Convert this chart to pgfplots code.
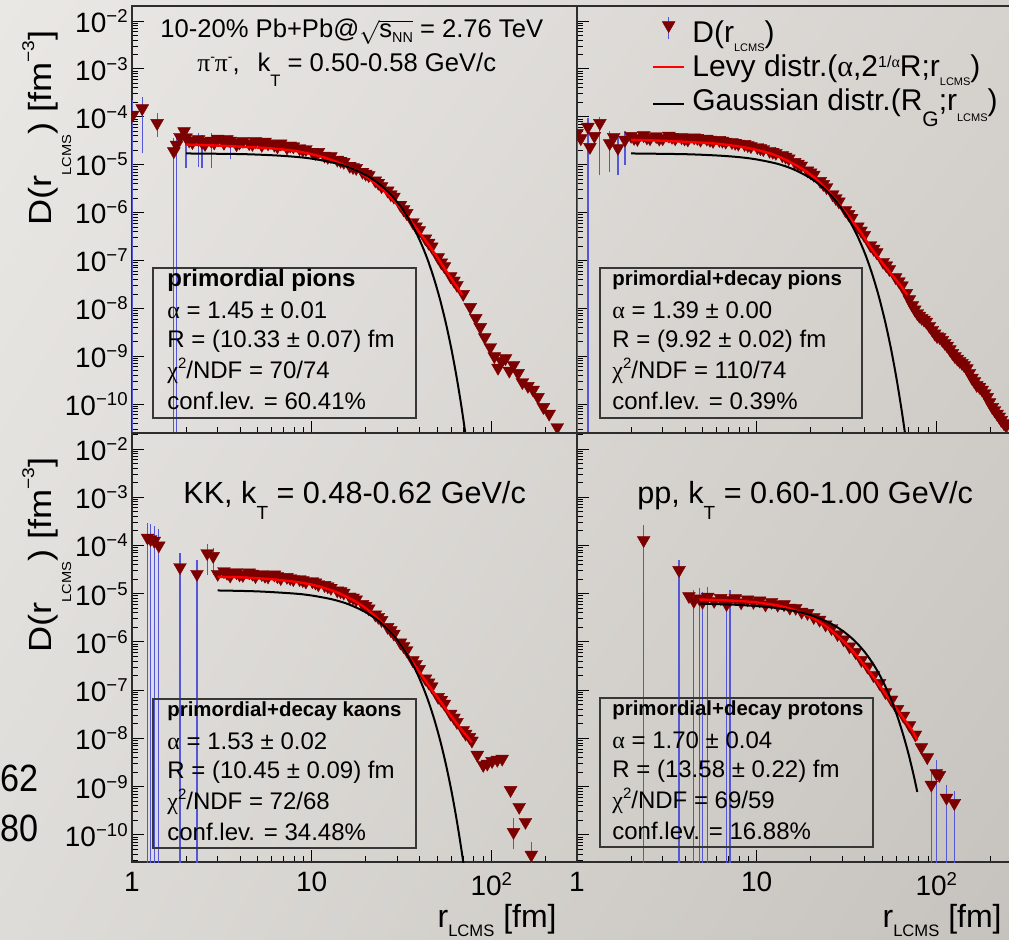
\documentclass[border=0pt]{standalone}
\usepackage{fontspec}
\setmainfont{Liberation Sans}
\newfontfamily\gr{Liberation Serif}
\usepackage{pgfplots}
\pgfplotsset{compat=1.18}
\usepackage{pgfplotstable}
\usetikzlibrary{shadings}

\definecolor{mkcol}{RGB}{125,0,0}
\definecolor{errcol}{RGB}{85,85,215}
\definecolor{framecol}{RGB}{45,45,45}
\definecolor{boxcol}{RGB}{55,55,55}
\definecolor{bgul}{RGB}{234,232,229}
\definecolor{bgur}{RGB}{214,211,207}
\definecolor{bgll}{RGB}{222,220,216}
\definecolor{bglr}{RGB}{198,195,190}

\newcommand\fs[1]{\fontsize{#1}{#1}\selectfont}
\newcommand\tp[1]{10\raisebox{5pt}{\fs{9.3}−#1}}
\newcommand\tpx[1]{10\raisebox{5pt}{\fs{9.3}#1}}
\newcommand\bl[3]{\node[anchor=base west,inner sep=0pt] at (#1,#2) {\fs{12}#3};}
\newcommand\bt[3]{\node[anchor=base west,inner sep=0pt] at (#1,#2) {\fs{10.2}\bfseries #3};}

% ---------------- panel A: primordial pions ----------------
\pgfplotstableread{
r D
1.01 1.1e-4
1.14 1.5e-4
1.38 7.4e-5
1.71 1.9e-5
1.77 2.6e-5
1.85 3.8e-5
1.95 5.0e-5
2.0 3.72e-5
2.17 2.95e-5
2.35 3.39e-5
2.55 2.69e-5
2.76 3.16e-5
3.0 3.47e-5
3.25 2.85e-5
3.52 3.16e-5
3.82 2.65e-5
4.14 3.13e-5
4.49 2.81e-5
4.87 3.09e-5
5.28 2.58e-5
5.72 2.78e-5
6.2 2.60e-5
6.73 2.77e-5
7.29 2.28e-5
7.91 2.41e-5
8.57 2.19e-5
9.29 2.11e-5
10.1 1.85e-5
10.9 1.84e-5
11.8 1.54e-5
12.8 1.50e-5
13.9 1.27e-5
15.1 1.14e-5
16.3 9.44e-6
17.7 8.51e-6
19.2 7.08e-6
20.8 6.03e-6
22.6 4.68e-6
24.5 3.55e-6
26.5 2.88e-6
28.7 2.14e-6
31.2 1.45e-6
33.8 9.77e-7
36.6 6.31e-7
39.7 4.27e-7
43.0 2.88e-7
46.6 1.95e-7
50.6 1.17e-7
54.8 7.59e-8
59.4 4.68e-8
64.4 3.09e-8
69.8 2.00e-8
2.08 3.2e-5
2.45 3.0e-5
2.87 2.9e-5
3.38 3.4e-5
3.97 2.9e-5
4.68 2.7e-5
5.5 3.0e-5
6.45 2.4e-5
7.6 2.5e-5
8.93 2.05e-5
10.5 1.75e-5
12.3 1.45e-5
14.5 1.2e-5
17.0 8.9e-6
20.0 6.46e-6
23.5 4.17e-6
27.6 2.40e-6
32.5 1.17e-6
38.1 5.13e-7
44.8 2.34e-7
52.7 9.12e-8
62 3.80e-8
76.4 1.07e-8
82 6.31e-9
86.8 4.07e-9
92 2.51e-9
98.7 1.55e-9
104 1.0e-9
109 5.75e-10
114 7.94e-10
120 9.12e-10
126 5.01e-10
133 6.61e-10
141 4.47e-10
149 2.88e-10
160 2.4e-10
171 2.00e-10
182 1.41e-10
195 8.71e-11
210 6.31e-11
233 3.31e-11
}\dataA
\pgfplotstableread{
x y
1.01 1e-12
1.01 2.24e-4
nan nan
1.14 1.74e-5
1.14 2.57e-4
nan nan
1.38 3.8e-5
1.38 1.2e-4
nan nan
1.71 1e-12
1.71 3.6e-5
nan nan
1.77 1e-12
1.77 4.2e-5
nan nan
2.0 8.5e-6
2.0 5.0e-5
nan nan
2.35 9.0e-6
2.35 4.6e-5
nan nan
2.45 8.5e-6
2.45 4.2e-5
nan nan
2.76 8.5e-6
2.76 4.5e-5
nan nan
3.52 1.3e-5
3.52 4.2e-5
}\errA
\pgfplotstableread{
r D
2 2.63e-5
3 2.51e-5
4.4 2.34e-5
6 2.19e-5
8 1.95e-5
10 1.66e-5
12 1.38e-5
14 1.12e-5
16 8.91e-6
18 7.41e-6
20 5.75e-6
22 4.37e-6
24.5 3.16e-6
27 2.24e-6
30 1.48e-6
34 8.51e-7
38 4.90e-7
43 2.63e-7
49 1.32e-7
55 6.76e-8
62 3.47e-8
69 1.91e-8
}\redA
\pgfplotstableread{
r D
2 1.72e-5
4 1.67e-5
6 1.58e-5
8 1.47e-5
10 1.34e-5
13 1.12e-5
16 8.89e-6
20 6.10e-6
24 3.85e-6
28 2.23e-6
32 1.19e-6
36 5.85e-7
40 2.64e-7
44 1.10e-7
48 4.19e-8
52 1.47e-8
56 4.74e-9
60 1.41e-9
64 3.85e-10
68 9.66e-11
72 2.23e-11
74 1.04e-11
}\blkA

% ---------------- panel B: primordial+decay pions ----------------
\pgfplotstableread{
r D
1.0 4.57e-5
1.05 3.55e-5
1.15 6.17e-5
1.18 2.34e-5
1.25 3.98e-5
1.34 7.41e-5
1.52 2.82e-5
1.6 3.8e-5
1.69 2.24e-5
1.85 3.31e-5
2.0 3.98e-5
2.17 3.44e-5
2.35 4.10e-5
2.55 3.55e-5
2.76 3.94e-5
3.0 3.55e-5
3.25 4.03e-5
3.52 3.55e-5
3.82 3.74e-5
4.14 3.36e-5
4.49 3.71e-5
4.87 3.31e-5
5.28 3.48e-5
5.72 3.13e-5
6.2 3.27e-5
6.73 3.02e-5
7.29 2.96e-5
7.91 2.73e-5
8.57 2.69e-5
9.29 2.43e-5
10.1 2.32e-5
10.9 2.11e-5
11.8 1.94e-5
12.8 1.76e-5
13.9 1.57e-5
15.1 1.35e-5
16.3 1.14e-5
17.7 9.55e-6
19.2 7.59e-6
20.8 6.17e-6
22.6 4.57e-6
24.5 3.39e-6
26.5 2.40e-6
28.7 1.70e-6
31.2 1.12e-6
33.8 7.76e-7
36.6 5.13e-7
39.7 3.39e-7
43.0 2.09e-7
46.6 1.48e-7
50.6 9.33e-8
54.8 6.61e-8
59.4 4.47e-8
64.4 3.02e-8
2.08 3.6e-5
2.45 3.7e-5
2.87 3.5e-5
3.38 3.8e-5
3.97 3.5e-5
4.68 3.6e-5
5.5 3.3e-5
6.45 3.15e-5
7.6 2.85e-5
8.93 2.55e-5
10.5 2.2e-5
12.3 1.85e-5
14.5 1.46e-5
17.0 1.05e-5
20.0 6.9e-6
23.5 3.95e-6
27.6 2.0e-6
32.5 9.3e-7
38.1 4.2e-7
44.8 1.75e-7
52.7 7.9e-8
62 3.7e-8
68.1 2.09e-8
73.6 1.17e-8
78.4 7.94e-9
83 6.31e-9
88 5.25e-9
95 3.55e-9
101 2.63e-9
108 2.19e-9
115 1.66e-9
123 1.17e-9
131 8.91e-10
139 7.24e-10
148 5.62e-10
158 3.55e-10
168 2.51e-10
180 2.00e-10
192 1.41e-10
205 8.71e-11
218 6.31e-11
230 4.68e-11
245 3.55e-11
70.8 1.55e-8
75.9 9.5e-9
80.5 7.0e-9
85.5 5.8e-9
91.5 4.3e-9
98 3.0e-9
104.5 2.5e-9
111.5 1.9e-9
119 1.4e-9
127 1.0e-9
135 8.0e-10
143 6.5e-10
153 4.5e-10
163 3.0e-10
174 2.3e-10
186 1.7e-10
198 1.1e-10
211 7.5e-11
224 5.5e-11
238 4.0e-11
}\dataB
\pgfplotstableread{
x y
1.0 1e-12
1.0 8.5e-5
nan nan
1.15 1e-12
1.15 9.5e-5
nan nan
1.34 6e-6
1.34 1.0e-4
nan nan
1.52 7e-6
1.52 5e-5
nan nan
1.69 6e-6
1.69 4e-5
nan nan
1.85 1e-5
1.85 5e-5
}\errB
\pgfplotstableread{
r D
2 3.31e-5
3 3.16e-5
4.4 2.95e-5
6 2.75e-5
8 2.40e-5
10 2.04e-5
12 1.70e-5
14 1.35e-5
16 1.05e-5
18 8.13e-6
20 6.17e-6
22 4.57e-6
24.5 3.02e-6
27 2.00e-6
30 1.23e-6
34 6.76e-7
38 3.89e-7
43.5 1.78e-7
49 1.00e-7
55 5.75e-8
62 3.31e-8
69 1.91e-8
}\redB
\pgfplotstableread{
r D
2 1.72e-5
4 1.66e-5
6 1.56e-5
8 1.44e-5
10 1.29e-5
13 1.05e-5
16 8.05e-6
20 5.22e-6
24 3.08e-6
28 1.65e-6
32 8.04e-7
36 3.55e-7
40 1.43e-7
44 5.20e-8
48 1.72e-8
52 5.19e-9
56 1.42e-9
60 3.52e-10
64 7.94e-11
67 2.44e-11
69 1.08e-11
}\blkB

% ---------------- panel C: kaons ----------------
\pgfplotstableread{
r D
1.22 1.45e-4
1.27 1.35e-4
1.33 1.25e-4
1.41 1.0e-4
1.85 3.55e-5
2.3 2.57e-5
2.62 6.92e-5
2.83 6.03e-5
3.0 2.57e-5
3.25 2.93e-5
3.52 2.37e-5
3.82 2.77e-5
4.14 2.44e-5
4.49 2.75e-5
4.87 2.31e-5
5.28 2.54e-5
5.72 2.27e-5
6.2 2.49e-5
6.73 2.10e-5
7.29 2.22e-5
7.91 2.00e-5
8.57 2.00e-5
9.29 1.78e-5
10.1 1.80e-5
10.9 1.56e-5
11.8 1.51e-5
12.8 1.32e-5
13.9 1.16e-5
15.1 1.05e-5
16.3 8.71e-6
17.7 7.59e-6
19.2 6.10e-6
20.8 4.95e-6
22.6 3.72e-6
24.5 2.85e-6
26.5 2.04e-6
28.7 1.48e-6
31.2 9.77e-7
33.8 6.76e-7
36.6 4.17e-7
39.7 2.75e-7
43.0 1.74e-7
46.6 1.20e-7
50.6 7.24e-8
54.8 5.25e-8
59.4 3.24e-8
64.4 2.19e-8
69.8 1.48e-8
75.6 1.07e-8
3.38 2.7e-5
3.97 2.5e-5
4.68 2.6e-5
5.5 2.35e-5
6.45 2.3e-5
7.6 2.1e-5
8.93 1.9e-5
10.5 1.7e-5
12.3 1.42e-5
14.5 1.12e-5
17.0 8.3e-6
20.0 5.6e-6
23.5 3.3e-6
27.6 1.75e-6
32.5 8.2e-7
38.1 3.5e-7
44.8 1.45e-7
52.7 6.3e-8
62 2.7e-8
72 1.25e-8
78 9.0e-9
83.6 4.57e-9
90.2 2.82e-9
95 3.0e-9
101 3.39e-9
108 3.6e-9
115 3.80e-9
128 8.51e-10
143 3.80e-10
155 1.86e-10
133 1.15e-10
167 3.89e-11
}\dataC
\pgfplotstableread{
x y
1.22 1e-12
1.22 3.0e-4
nan nan
1.27 1e-12
1.27 2.8e-4
nan nan
1.33 1e-12
1.33 2.5e-4
nan nan
1.41 1e-12
1.41 2.2e-4
nan nan
1.85 1e-12
1.85 7.0e-5
nan nan
2.3 1e-12
2.3 5.0e-5
nan nan
2.62 2.5e-5
2.62 1.1e-4
nan nan
2.83 2.4e-5
2.83 9.0e-5
nan nan
133 5e-11
133 2.2e-10
nan nan
167 1e-12
167 7e-11
}\errC
\pgfplotstableread{
r D
3 2.24e-5
4 2.19e-5
5 2.09e-5
6 2.00e-5
8 1.78e-5
10 1.55e-5
12 1.29e-5
14 1.05e-5
17 7.41e-6
20 5.01e-6
24 2.75e-6
28 1.48e-6
32 7.94e-7
37 3.55e-7
43 1.58e-7
50 7.24e-8
58 3.39e-8
67 1.66e-8
78 8.32e-9
}\redC
\pgfplotstableread{
r D
3 1.17e-5
5 1.12e-5
8 1.01e-5
10 9.20e-6
13 7.66e-6
16 6.08e-6
20 4.14e-6
24 2.59e-6
28 1.49e-6
32 7.85e-7
36 3.80e-7
40 1.69e-7
44 6.90e-8
48 2.59e-8
52 8.91e-9
56 2.82e-9
60 8.18e-10
64 2.18e-10
68 5.35e-11
71 1.76e-11
}\blkC

% ---------------- panel D: protons ----------------
\pgfplotstableread{
r D
2.35 1.29e-4
3.7 3.09e-5
4.2 8.91e-6
4.47 7.08e-6
4.8 7.94e-6
5.0 6.76e-6
5.34 8.61e-6
5.8 7.08e-6
6.3 8.13e-6
6.8 6.10e-6
7.1 7.41e-6
7.6 8.04e-6
8.2 6.61e-6
8.9 7.59e-6
9.6 6.76e-6
10.4 7.24e-6
11.2 5.96e-6
12.1 6.76e-6
13.1 5.89e-6
14.2 6.03e-6
15.3 5.13e-6
16.5 5.07e-6
17.8 4.22e-6
19.2 3.98e-6
20.8 3.27e-6
22.4 2.88e-6
24.2 2.29e-6
26.1 1.93e-6
28.2 1.45e-6
30.5 1.12e-6
32.9 8.04e-7
35.5 6.17e-7
38.3 4.22e-7
41.4 3.09e-7
44.7 2.04e-7
48.3 1.41e-7
52.1 9.12e-8
56.3 6.38e-8
60.8 4.07e-8
65.6 2.95e-8
70.9 1.88e-8
76.5 1.20e-8
82.6 6.61e-9
89.1 4.07e-9
100 1.91e-9
93.8 1.10e-9
104 1.74e-9
114 5.89e-10
126 4.57e-10
}\dataD
\pgfplotstableread{
x y
2.35 1e-12
2.35 2.6e-4
nan nan
3.7 1e-12
3.7 5e-5
nan nan
4.47 1e-12
4.47 1.2e-5
nan nan
4.8 1e-12
4.8 1.3e-5
nan nan
5.0 1e-12
5.0 1.1e-5
nan nan
5.34 1e-12
5.34 1.4e-5
nan nan
6.8 1e-12
6.8 1.0e-5
nan nan
7.1 1e-12
7.1 1.2e-5
nan nan
93.8 1e-12
93.8 2.0e-9
nan nan
100 1e-12
100 3.5e-9
nan nan
114 1e-12
114 1.1e-9
nan nan
126 1e-12
126 8.0e-10
}\errD
\pgfplotstableread{
r D
4.8 7.59e-6
6 7.41e-6
8 7.08e-6
10 6.61e-6
13 5.75e-6
16 4.68e-6
20 3.31e-6
24 2.19e-6
28 1.38e-6
33 7.59e-7
38 4.07e-7
44 2.04e-7
50 1.05e-7
57 5.37e-8
65 2.75e-8
73 1.51e-8
78.4 9.12e-9
}\redD
\pgfplotstableread{
r D
4.8 6.24e-6
8 5.87e-6
12 5.22e-6
16 4.44e-6
20 3.59e-6
25 2.58e-6
30 1.72e-6
35 1.07e-6
40 6.17e-7
45 3.30e-7
50 1.64e-7
55 7.60e-8
60 3.27e-8
65 1.30e-8
70 4.84e-9
75 1.67e-9
78.4 7.76e-10
}\blkD

\newcommand\panelbegin[1]{\begin{loglogaxis}[
    scale only axis, width=222.5pt, xmin=1, xmax=300,
    axis line style={draw=framecol, line width=0.9pt},
    xtick={1,10,100}, minor xtick={2,3,4,5,6,7,8,9,20,30,40,50,60,70,80,90,200,300},
    ytick={1e-10,1e-9,1e-8,1e-7,1e-6,1e-5,1e-4,1e-3,1e-2},
    minor ytick={2e-11,3e-11,4e-11,5e-11,6e-11,7e-11,8e-11,9e-11,
      2e-10,3e-10,4e-10,5e-10,6e-10,7e-10,8e-10,9e-10,
      2e-9,3e-9,4e-9,5e-9,6e-9,7e-9,8e-9,9e-9,
      2e-8,3e-8,4e-8,5e-8,6e-8,7e-8,8e-8,9e-8,
      2e-7,3e-7,4e-7,5e-7,6e-7,7e-7,8e-7,9e-7,
      2e-6,3e-6,4e-6,5e-6,6e-6,7e-6,8e-6,9e-6,
      2e-5,3e-5,4e-5,5e-5,6e-5,7e-5,8e-5,9e-5,
      2e-4,3e-4,4e-4,5e-4,6e-4,7e-4,8e-4,9e-4,
      2e-3,3e-3,4e-3,5e-3,6e-3,7e-3,8e-3,9e-3,2e-2},
    xtick pos=left, ytick pos=left, tick align=inside,
    major tick length=6pt, minor tick length=3pt,
    tick style={black, line width=0.5pt},
    xticklabels={}, yticklabels={},
    tick label style={font=\fs{14}},
    yticklabel style={inner sep=2pt},
    xticklabel style={inner sep=5pt},
    clip marker paths=true,
    unbounded coords=jump, anchor=north west, #1]}

\begin{document}
\begin{tikzpicture}
\path[use as bounding box] (0,0) rectangle (504.5pt,-470pt);
\shade[upper left=bgul, upper right=bgur, lower left=bgll, lower right=bglr] (0,0) rectangle (504.5pt,-470pt);

% A
\panelbegin{at={(66pt,-3pt)}, height=213.5pt, ymin=2.51e-11, ymax=2.06e-2,
  yticklabels={\tp{10},\tp{9},\tp{8},\tp{7},\tp{6},\tp{5},\tp{4},\tp{3},\tp{2}}}
\addplot[errcol, line width=0.6pt, forget plot] table {\errA};
\addplot[only marks, mark=triangle*, mark size=3.7pt, mark options={rotate=180, fill=mkcol, draw=mkcol, line width=0.2pt, solid}, forget plot] table {\dataA};
\addplot[red, line width=1.2pt, smooth, forget plot] table {\redA};
\addplot[black, line width=1pt, smooth, forget plot] table {\blkA};
\end{loglogaxis}

% B
\panelbegin{at={(288.5pt,-3pt)}, height=213.5pt, ymin=2.51e-11, ymax=2.06e-2,
  legend style={at={(0.1685,0.975)}, anchor=north west, draw=none, fill=none,
    inner sep=0pt, outer sep=0pt, row sep=1pt, column sep=3.5pt,
    font=\fs{15}, nodes={inner sep=0pt, text height=9.5pt, text depth=6.5pt}},
  legend cell align=left}
\addplot[errcol, line width=0.6pt, forget plot] table {\errB};
\addplot[only marks, mark=triangle*, mark size=3.7pt,
    mark options={rotate=180, fill=mkcol, draw=mkcol, line width=0.2pt, solid},
    legend image code/.code={
      \draw[errcol, line width=0.6pt] (7.75pt,0pt) -- (7.75pt,11pt);
      \draw[mkcol, fill=mkcol, line width=0.2pt] plot[only marks, mark=triangle*, mark size=3.7pt, mark options={rotate=180}] coordinates {(7.75pt,7pt)};
    }] table {\dataB};
\addlegendentry{D(r\raisebox{-4.5pt}{\fs{5.5}LCMS})}
\addplot[red, line width=1.2pt, smooth, legend image code/.code={\draw[red, line width=1.2pt] (0pt,3pt) -- (15.5pt,3pt);}] table {\redB};
\addlegendentry{Levy distr.({\gr α},2\raisebox{4.5pt}{\fs{8}1/{\gr α}}R;r\raisebox{-4.8pt}{\fs{5.5}LCMS})}
\addplot[black, line width=1pt, smooth, legend image code/.code={\draw[black, line width=1pt] (0pt,1.5pt) -- (15.5pt,1.5pt);}] table {\blkB};
\addlegendentry{Gaussian distr.(R\raisebox{-8pt}{\fs{10.5}G};r\raisebox{-5.5pt}{\fs{5.5}LCMS})}
\end{loglogaxis}

% C
\panelbegin{at={(66pt,-216.5pt)}, height=214.5pt, ymin=2.75e-11, ymax=2.15e-2,
  yticklabels={\tp{10},\tp{9},\tp{8},\tp{7},\tp{6},\tp{5},\tp{4},\tp{3},\tp{2}},
  xticklabels={1,10,\tpx{2}}}
\addplot[errcol, line width=0.6pt, forget plot] table {\errC};
\addplot[only marks, mark=triangle*, mark size=3.7pt, mark options={rotate=180, fill=mkcol, draw=mkcol, line width=0.2pt, solid}, forget plot] table {\dataC};
\addplot[red, line width=1.2pt, smooth, forget plot] table {\redC};
\addplot[black, line width=1pt, smooth, forget plot] table {\blkC};
\end{loglogaxis}

% D
\panelbegin{at={(288.5pt,-216.5pt)}, height=214.5pt, ymin=2.75e-11, ymax=2.15e-2,
  xticklabels={1,10,\tpx{2}}}
\addplot[errcol, line width=0.6pt, forget plot] table {\errD};
\addplot[only marks, mark=triangle*, mark size=3.7pt, mark options={rotate=180, fill=mkcol, draw=mkcol, line width=0.2pt, solid}, forget plot] table {\dataD};
\addplot[red, line width=1.2pt, smooth, forget plot] table {\redD};
\addplot[black, line width=1pt, smooth, forget plot] table {\blkD};
\end{loglogaxis}

\begin{scope}[x=0.5pt,y=-0.5pt]
% axis titles
\node[rotate=90, anchor=base east, inner sep=0pt] at (52,30) {\scalebox{1.13}[1]{\fs{16}D(r\raisebox{-9.5pt}{\fs{6.5}LCMS}) [fm\raisebox{9pt}{\fs{8.5}−3}]}};
\node[rotate=90, anchor=base east, inner sep=0pt] at (52,457) {\scalebox{1.13}[1]{\fs{16}D(r\raisebox{-9.5pt}{\fs{6.5}LCMS}) [fm\raisebox{9pt}{\fs{8.5}−3}]}};
\node[anchor=base east, inner sep=0pt] at (557,928) {\fs{16}r\raisebox{-4.5pt}{\fs{8.3}LCMS} [fm]};
\node[anchor=base east, inner sep=0pt] at (1002,928) {\fs{16}r\raisebox{-4.5pt}{\fs{8.3}LCMS} [fm]};
% panel titles
\node[anchor=base west, inner sep=0pt] at (160,38) {\fs{12.8}10-20\% Pb+Pb@$\sqrt{\mbox{s\raisebox{-2.5pt}{\fs{7.2}NN}}}$ = 2.76 TeV};
\node[anchor=base west, inner sep=0pt] at (197,72) {\fs{12.8}{\gr π}\raisebox{5pt}{\fs{7}-}{\gr π}\raisebox{5pt}{\fs{7}-},\hspace{0.7em}k\raisebox{-7.5pt}{\fs{8.3}T} = 0.50-0.58 GeV/c};
\node[anchor=base west, inner sep=0pt] at (183,504) {\fs{15.3}KK, k\raisebox{-8pt}{\fs{9.5}T} = 0.48-0.62 GeV/c};
\node[anchor=base west, inner sep=0pt] at (637,504) {\fs{15.3}pp, k\raisebox{-8pt}{\fs{9.5}T} = 0.60-1.00 GeV/c};
% boxes
\draw[boxcol, line width=0.8pt] (153,268) rectangle (416,418);
\node[anchor=base west,inner sep=0pt] at (167,287) {\fs{12}\bfseries primordial pions};
\bl{167}{319}{{\gr α} = 1.45 ± 0.01}
\bl{167}{348}{R = (10.33 ± 0.07) fm}
\bl{167}{379}{{\gr χ}\raisebox{5pt}{\fs{7.5}2}/NDF = 70/74}
\bl{167}{410}{conf.lev. = 60.41\%}
\draw[boxcol, line width=0.8pt] (600,268) rectangle (862,418);
\bt{612}{286}{primordial+decay pions}
\bl{612}{319}{{\gr α} = 1.39 ± 0.00}
\bl{612}{348}{R = (9.92 ± 0.02) fm}
\bl{612}{379}{{\gr χ}\raisebox{5pt}{\fs{7.5}2}/NDF = 110/74}
\bl{612}{410}{conf.lev. = 0.39\%}
\draw[boxcol, line width=0.8pt] (153,699) rectangle (416,848);
\bt{167}{717}{primordial+decay kaons}
\bl{167}{750}{{\gr α} = 1.53 ± 0.02}
\bl{167}{779}{R = (10.45 ± 0.09) fm}
\bl{167}{810}{{\gr χ}\raisebox{5pt}{\fs{7.5}2}/NDF = 72/68}
\bl{167}{841}{conf.lev. = 34.48\%}
\draw[boxcol, line width=0.8pt] (600,698) rectangle (873,847);
\bt{612}{716}{primordial+decay protons}
\bl{612}{749}{{\gr α} = 1.70 ± 0.04}
\bl{612}{778}{R = (13.58 ± 0.22) fm}
\bl{612}{809}{{\gr χ}\raisebox{5pt}{\fs{7.5}2}/NDF = 69/59}
\bl{612}{840}{conf.lev. = 16.88\%}
% background slide digits
\node[anchor=base west, inner sep=0pt] at (0,792) {\scalebox{0.9}[1]{\fs{19}62}};
\node[anchor=base west, inner sep=0pt] at (0,842) {\scalebox{0.9}[1]{\fs{19}80}};
\end{scope}
\end{tikzpicture}
\end{document}
